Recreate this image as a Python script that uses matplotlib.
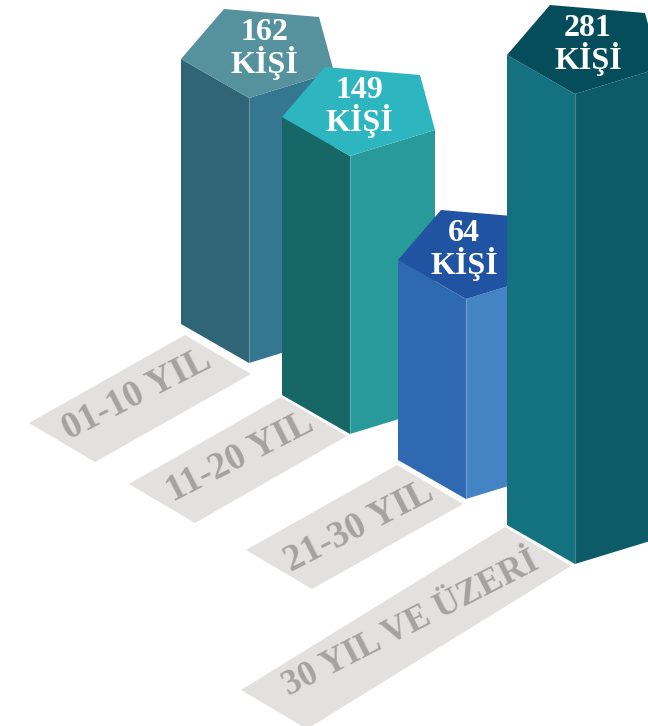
import numpy as np
import matplotlib.pyplot as plt
from matplotlib.patches import Polygon

plt.rcParams["font.family"] = ["Liberation Serif", "DejaVu Serif"]

# values as printed, and column heights as drawn (not proportional in the original)
counts = [162, 149, 64, 281]
categories = ["01-10 YIL", "11-20 YIL", "21-30 YIL", "30 YIL VE ÜZERİ"]
drawn_heights = [265, 278, 200, 470]

# layout, pixels
base_x = [181, 282, 398, 507]
base_y = [324, 395, 460, 525]
count_dx = [83, 77, 66, 81]
label_top = [(185, 335), (281, 397), (397, 465), (505, 527)]
label_run = [(-156, 88), (-152, 87), (-151, 85), (-264, 163)]
label_rot = [27, 27, 27, 27]
label_size = [27, 27, 27, 25.5]
label_shift = [(-3, -4), (2, -3), (4, 0), (5, -4)]

left_cols = ["#2f6577", "#176766", "#2f69b2", "#147280"]
right_cols = ["#357690", "#279a99", "#4484c5", "#0c5b67"]
top_cols = ["#55929d", "#2eb6c0", "#2053a1", "#064d5c"]

# corner offsets of the pentagon, from its left corner
FRONT = np.array([68, 39])
RIGHT = np.array([153, 13])
BACK_R = np.array([138, -42])
BACK_L = np.array([43, -50])

fig = plt.figure(figsize=(6.48, 7.26), dpi=100)
ax = fig.add_axes([0, 0, 1, 1])
ax.set_xlim(0, 648)
ax.set_ylim(726, 0)
ax.axis("off")

for i in range(4):
    x, y = label_top[i]
    rx, ry = label_run[i]
    ax.add_patch(Polygon([(x, y), (x + 66, y + 39), (x + 66 + rx, y + 39 + ry), (x + rx, y + ry)],
                         fc="#e2e1df", ec="none"))
    ax.text(x + 33 + rx / 2 + label_shift[i][0], y + 19.5 + ry / 2 + label_shift[i][1], categories[i],
            rotation=label_rot[i], rotation_mode="anchor",
            ha="center", va="center", fontsize=label_size[i], fontweight="bold", color="#a5a3a0")

for i in range(4):
    low = np.array([base_x[i], base_y[i]], dtype=float)
    up = low - [0, drawn_heights[i]]
    ax.add_patch(Polygon([low, low + FRONT, up + FRONT, up], fc=left_cols[i], ec="none"))
    ax.add_patch(Polygon([low + FRONT, low + RIGHT, up + RIGHT, up + FRONT], fc=right_cols[i], ec="none"))
    ax.plot([low[0] + FRONT[0]] * 2, [low[1] + FRONT[1], up[1] + FRONT[1]], color="white", alpha=0.25, lw=0.8)
    ax.add_patch(Polygon([up, up + BACK_L, up + BACK_R, up + RIGHT, up + FRONT], fc=top_cols[i], ec="none"))
    # one text object for both lines, the original sets them very tight
    ax.text(up[0] + count_dx[i], up[1] - 10, f"{counts[i]}\nKİŞİ", ha="center", va="center",
            fontsize=23, fontweight="bold", color="white", linespacing=0.93)

fig.savefig("out.png", dpi=100)
